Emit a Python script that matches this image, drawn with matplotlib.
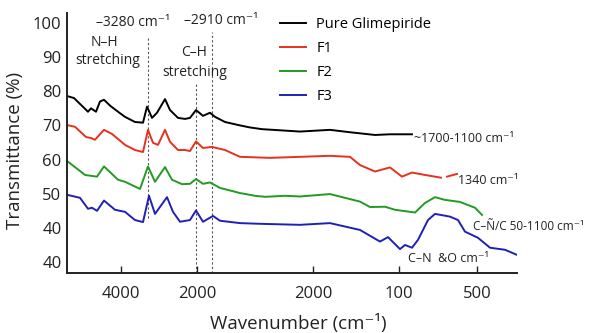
import matplotlib
matplotlib.use("Agg")
import matplotlib.pyplot as plt

plt.rcParams['font.family'] = ['Open Sans', 'DejaVu Sans']

# x is a position along the (non-linear) wavenumber axis, 0..450
tick_pos = [54, 130, 246, 332, 410]
tick_labels = ["4000", "2000", "2000", "100", "500"]
ytick_pos = [30, 40, 50, 60, 70, 80, 90, 100]
ytick_labels = ["40", "40", "50", "60", "70", "80", "90", "100"]
dashed_x = [81, 129, 145]
dashed_top = [95.8, 82.6, 97.4]
dashed_bottom = [42.8, 26.8, 26.8]

pure_x = [0, 7, 21, 24, 29, 33, 37, 43, 51, 58, 68, 76, 80, 85, 90, 98, 103, 111,
          118, 123, 129, 136, 143, 148, 158, 173, 183, 195, 233, 263, 283, 308, 323, 345]
pure_y = [78.6, 78, 74, 75, 74, 77, 77.5, 75.8, 74, 72.5, 71, 70.8, 75.5, 72.2, 73.7,
          77.7, 74.5, 72.2, 71.9, 72.2, 74.5, 72.8, 73.7, 72.5, 71, 70, 69.4, 68.9,
          68.2, 68.7, 68, 67.2, 67.4, 67.4]

f1_x = [0, 8, 19, 24, 28, 37, 45, 58, 68, 76, 81, 86, 91, 98, 103, 111, 118, 123,
        129, 136, 145, 158, 173, 203, 233, 263, 283, 293, 308, 323, 335, 345, 358, 374]
f1_y = [70.1, 69.6, 66.6, 66.3, 65.8, 68.7, 67.5, 64.3, 62.8, 62.2, 68.7, 64.9, 64.3,
        68.7, 65.2, 62.8, 62.8, 62.5, 65.3, 63.4, 63.7, 62.8, 60.8, 60.5, 60.8, 61.1,
        60.8, 58.4, 56.5, 57.7, 55, 56.2, 55.5, 54.7]
f1_tail_x = [380, 390]
f1_tail_y = [55.0, 55.8]

f2_x = [0, 18, 25, 30, 37, 51, 58, 73, 81, 88, 98, 105, 115, 123, 129, 136, 143, 153,
        173, 188, 198, 218, 233, 263, 293, 303, 318, 328, 348, 358, 368, 378, 393, 408, 415]
f2_y = [59.6, 55.5, 55.2, 55, 58, 54.1, 53.5, 51.4, 58, 53.5, 57.8, 54.1, 52.8, 52.9,
        54.3, 52.9, 53.3, 51.7, 50.2, 49.4, 49.1, 49.4, 49.2, 49.9, 47.7, 46.1, 46.2,
        45.3, 44.5, 47.3, 49, 48.2, 47.6, 45.9, 43.8]

f3_x = [0, 13, 21, 25, 30, 37, 48, 58, 68, 76, 82, 88, 100, 106, 113, 123, 129, 136,
        146, 153, 173, 193, 233, 263, 293, 313, 321, 333, 338, 345, 351, 361, 368, 383,
        391, 398, 411, 423, 438, 450]
f3_y = [49.7, 48.8, 45.6, 45.9, 45, 48, 45.3, 44.7, 42.3, 41.7, 49.4, 44.1, 49, 44.7,
        41.8, 42.3, 45.1, 41.8, 43.5, 42.1, 41.4, 41.2, 40.9, 41.4, 39.4, 36, 37.3, 33.8,
        35, 34.2, 36.5, 42.3, 44.1, 43.3, 42.3, 38.9, 37.1, 34.2, 33.6, 32.1]

W, H = 598, 333
fig = plt.figure(figsize=(W / 100, H / 100), dpi=100)
ax = fig.add_axes([67 / W, 1 - 273 / H, 450 / W, 260 / H])

def px(x, y):
    return x / W, 1 - y / H

c_red = '#e8301e'
c_green = '#239a23'
c_blue = '#2020b8'

for xd, top, bot in zip(dashed_x, dashed_top, dashed_bottom):
    ax.plot([xd, xd], [bot, top], color='#555555', lw=0.8, ls=(0, (2, 2)))

lw = 1.4
ax.plot(pure_x, pure_y, color='black', lw=lw, label='Pure Glimepiride')
ax.plot(f1_x, f1_y, color=c_red, lw=lw, label='F1')
ax.plot(f1_tail_x, f1_tail_y, color=c_red, lw=lw)
ax.plot(f2_x, f2_y, color=c_green, lw=lw, label='F2')
ax.plot(f3_x, f3_y, color=c_blue, lw=lw, label='F3')

ax.set_xlim(0, 450)
ax.set_ylim(26.8, 102.9)
ax.set_xticks(tick_pos)
ax.set_xticklabels(tick_labels)
ax.set_yticks(ytick_pos)
ax.set_yticklabels(ytick_labels)
ax.tick_params(axis='x', direction='in', length=5, width=1, pad=9, labelsize=12, colors='#222222')
ax.tick_params(axis='y', length=0, pad=4, labelsize=12, colors='#222222')
for s in ['top', 'right']:
    ax.spines[s].set_visible(False)
for s in ['left', 'bottom']:
    ax.spines[s].set_linewidth(1.4)
    ax.spines[s].set_color('#222222')

ax.legend(loc='upper left', bbox_to_anchor=px(280, 17), bbox_transform=fig.transFigure,
          frameon=False, borderpad=0, borderaxespad=0, handlelength=1.8,
          handletextpad=0.7, labelspacing=0.62, fontsize=10.5)

fig.text(*px(15, 150), 'Transmittance (%)', rotation=90, ha='center', va='center', fontsize=13.5, color='#222222')
fig.text(*px(298, 323), 'Wavenumber (cm⁻¹)', ha='center', va='center', fontsize=13.5, color='#222222')

tk = dict(fontsize=10, color='#222222', va='center')
fig.text(*px(96, 23), '–3280 cm⁻¹', ha='left', **tk)
fig.text(*px(184, 20), '–2910 cm⁻¹', ha='left', **tk)
fig.text(*px(104, 42), 'N–H', ha='center', **tk)
fig.text(*px(108, 60), 'stretching', ha='center', **tk)
fig.text(*px(194, 53), 'C–H', ha='center', **tk)
fig.text(*px(195, 72), 'stretching', ha='center', **tk)
fig.text(*px(414, 138), '~1700-1100 cm⁻¹', ha='left', fontsize=9, color='#222222', va='center')
fig.text(*px(458, 181), '1340 cm⁻¹', ha='left', fontsize=9, color='#222222', va='center')
fig.text(*px(473, 227), 'C–Ñ/C 50-1100 cm⁻¹', ha='left', fontsize=8.5, color='#222222', va='center')
fig.text(*px(408, 258), 'C–N  &O cm⁻¹', ha='left', fontsize=9, color='#222222', va='center')

fig.savefig('out.png', dpi=100)
